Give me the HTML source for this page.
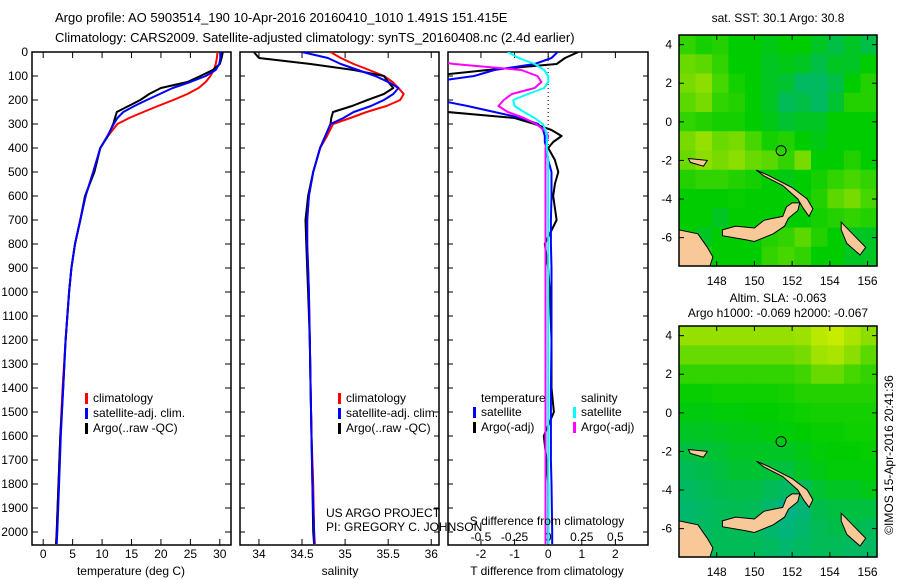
<!DOCTYPE html>
<html><head><meta charset="utf-8">
<style>
html,body{margin:0;padding:0;background:#fff;}
svg{display:block;font-family:"Liberation Sans",sans-serif;}
text{font-size:12px;fill:#000;}
</style></head>
<body>
<svg id="fig" width="900" height="580" viewBox="0 0 900 580" xmlns="http://www.w3.org/2000/svg">
<text x="55" y="22" style="font-size:13px">Argo profile: AO 5903514_190 10-Apr-2016 20160410_1010 1.491S 151.415E</text>
<text x="55" y="42" style="font-size:13px">Climatology: CARS2009. Satellite-adjusted climatology: synTS_20160408.nc (2.4d earlier)</text>
<g id="plots"></g>
<text x="778" y="22" text-anchor="middle">sat. SST: 30.1 Argo: 30.8</text>
<text x="778" y="302" text-anchor="middle">Altim. SLA: -0.063</text>
<text x="778" y="317" text-anchor="middle">Argo h1000: -0.069 h2000: -0.067</text>
<text transform="translate(893,455) rotate(-90)" text-anchor="middle">©IMOS 15-Apr-2016 20:41:36</text>
<text x="326" y="517">US ARGO PROJECT</text>
<text x="326" y="531">PI: GREGORY C. JOHNSON</text>
</svg>
<script>
// ---- profile data ----
const depthGrid = [0,25,50,75,100,125,150,175,200,225,250,275,300,350,400,500,600,700,800,900,1000,1200,1400,1600,1800,2000,2050];
const tempClim = [29.6,29.5,29.3,29.0,28.4,27.6,26.4,24.5,22.1,19.5,17.0,14.6,12.6,11.0,9.7,8.5,7.2,6.3,5.4,4.8,4.4,3.8,3.3,2.9,2.6,2.3,2.2];
const tempSat  = [30.2,30.1,29.9,29.3,27.6,25.0,22.0,19.8,17.6,15.5,13.6,12.6,12.0,10.9,9.7,8.5,7.2,6.3,5.4,4.8,4.4,3.8,3.4,3.0,2.7,2.4,2.3];
const tempArgo = [30.5,30.3,30.0,28.8,26.7,24.5,20.0,18.0,16.5,14.5,12.5,12.2,11.9,11.0,9.7,8.7,7.1,6.3,5.4,4.8,4.4,3.8,3.4,2.9,2.6,2.3,2.2];
const salClim = [34.83,34.95,35.1,35.28,35.45,35.55,35.62,35.68,35.64,35.48,35.25,35.06,34.86,34.79,34.71,34.63,34.58,34.56,34.56,34.57,34.58,34.59,34.6,34.61,34.63,34.64,34.65];
const salSat  = [34.5,34.8,34.95,35.15,35.35,35.5,35.62,35.56,35.45,35.3,35.1,34.98,34.83,34.77,34.71,34.63,34.58,34.56,34.56,34.57,34.58,34.59,34.6,34.61,34.62,34.64,34.64];
const salArgo = [33.94,34.0,34.6,35.1,35.45,35.5,35.56,35.45,35.26,35.08,34.86,34.84,34.83,34.77,34.71,34.63,34.57,34.54,34.55,34.56,34.57,34.59,34.6,34.61,34.62,34.63,34.64];
const diffDepth = [0,25,50,75,100,125,150,175,200,225,250,275,300,325,350,375,400,450,500,550,600,700,800,900,1000,1200,1400,1500,1600,1700,1800,2000,2050];
const dTArgo = [0.9,0.5,0.25,-1.8,-3.5,-4,-6,-6,-5.5,-4,-3.0,-1.0,-0.4,0.1,0.4,0.15,0.0,0.2,0.3,0.2,0.15,0.25,-0.1,0.0,0.05,0.1,0.1,0.17,-0.13,-0.05,0.0,0.0,0.0];
const dTSat  = [0.28,0.1,-0.4,-1.6,-2.2,-3.5,-4.4,-4.7,-3.3,-2.4,-1.6,-0.8,-0.3,-0.15,-0.1,-0.1,-0.05,0.0,0.1,0.1,0.1,0.08,0.08,0.1,0.1,0.1,0.08,0.08,0.08,0.08,0.1,0.12,0.12];
const dSSat  = [-0.3,-0.22,-0.1,-0.03,0,0,-0.03,-0.15,-0.26,-0.25,-0.18,-0.1,-0.04,-0.02,-0.01,-0.01,-0.01,0,0,0,0,0,0,0,0,0,0,0,0,0,0,0,0];
const dSArgo = [-1.0,-1.0,-0.7,-0.2,-0.08,-0.05,-0.1,-0.27,-0.33,-0.37,-0.3,-0.18,-0.09,-0.03,0,-0.01,-0.02,-0.02,-0.02,-0.02,-0.02,-0.02,-0.02,-0.02,-0.02,-0.02,-0.02,-0.02,-0.02,-0.02,-0.02,-0.02,-0.02];
const depthTicks = [0,100,200,300,400,500,600,700,800,900,1000,1100,1200,1300,1400,1500,1600,1700,1800,1900,2000];
const tempTicks = [0,5,10,15,20,25,30];
const salTicks = [34,34.5,35,35.5,36];
const dTTicks = [-2,-1,0,1,2];
const dSTicks = [-0.5,-0.25,0,0.25,0.5];
// ---- map data (0=blue/teal .. 0.55=green .. 1=yellow) ----
const sstGrid = [
[.62,.58,.6,.55,.55,.52,.55,.55,.5,.45,.5,.45],
[.7,.68,.62,.55,.55,.5,.52,.5,.45,.5,.5,.55],
[.72,.75,.65,.58,.55,.5,.48,.4,.4,.45,.55,.6],
[.68,.72,.62,.6,.55,.5,.42,.45,.4,.48,.6,.6],
[.62,.6,.58,.58,.55,.52,.48,.5,.5,.55,.55,.55],
[.72,.78,.7,.72,.65,.58,.6,.55,.52,.55,.55,.55],
[.7,.75,.72,.75,.7,.68,.62,.72,.55,.55,.6,.55],
[.6,.62,.62,.6,.58,.55,.52,.55,.58,.62,.65,.62],
[.55,.55,.55,.56,.55,.55,.55,.55,.6,.68,.72,.65],
[.55,.55,.5,.55,.55,.55,.55,.55,.58,.6,.62,.6],
[.55,.5,.55,.55,.55,.6,.62,.68,.6,.55,.5,.5],
[.55,.6,.55,.55,.55,.62,.65,.62,.55,.55,.5,.5]];
const slaGrid = [
[.78,.78,.78,.78,.78,.78,.78,.8,.9,.95,.85,.75],
[.7,.7,.7,.7,.7,.7,.7,.72,.82,.85,.75,.68],
[.62,.62,.62,.62,.62,.62,.62,.64,.7,.7,.65,.62],
[.56,.56,.57,.57,.57,.57,.58,.6,.6,.6,.6,.6],
[.53,.53,.54,.54,.55,.55,.56,.57,.58,.58,.58,.58],
[.5,.5,.51,.52,.52,.53,.54,.55,.56,.56,.57,.57],
[.46,.47,.48,.5,.5,.5,.5,.52,.54,.55,.55,.56],
[.42,.44,.46,.48,.48,.47,.46,.5,.52,.54,.54,.54],
[.4,.42,.44,.45,.45,.42,.4,.42,.48,.5,.5,.52],
[.38,.4,.42,.43,.42,.38,.33,.36,.44,.46,.46,.46],
[.38,.4,.42,.42,.42,.38,.35,.38,.42,.44,.44,.42],
[.38,.4,.42,.42,.42,.4,.38,.4,.42,.42,.4,.4]];
const latTicks = [4,2,0,-2,-4,-6];
const lonTicks = [148,150,152,154,156];
const floatLon = 151.415, floatLat = -1.491;
const landNewBritain = [[148.3,-5.6],[149,-5.4],[150,-5.5],[150.5,-5.1],[151,-5.0],[151.5,-4.9],[151.7,-4.4],[152.0,-4.2],[152.4,-4.2],[152.3,-4.6],[151.8,-5.0],[151.6,-5.4],[151,-5.8],[150,-6.2],[149.5,-6.1],[148.3,-5.9]];
const landNewIreland = [[150.1,-2.5],[150.8,-2.8],[152,-3.4],[152.8,-4.0],[153.1,-4.5],[152.9,-4.9],[152.6,-4.5],[152.3,-4.0],[151.5,-3.3],[150.5,-2.8]];
const landPNG = [[146,-5.6],[147,-5.8],[147.5,-6.5],[147.8,-7.0],[147.6,-7.6],[146,-7.6]];
const landManus = [[146.5,-1.9],[147.5,-2.0],[147.3,-2.3],[146.6,-2.1]];
const landBougainville = [[154.6,-5.2],[155.2,-5.8],[155.9,-6.5],[155.6,-6.9],[154.9,-6.3],[154.6,-5.6]];

const NS = "http://www.w3.org/2000/svg";
const root = document.getElementById('plots');
function mk(tag, attrs, parent){const e=document.createElementNS(NS,tag);for(const k in attrs)e.setAttribute(k,attrs[k]);(parent||root).appendChild(e);return e;}

const yTop=52, yBot=545, depthScale=0.24;
const yD = d => yTop + d*depthScale;

function panel(name, x0, x1, xmin, xmax){
  const g = mk('g',{});
  
  
  const cp = mk('clipPath',{id:'clip-'+name}, g);
  mk('rect',{x:x0,y:yTop,width:x1-x0,height:yBot-yTop},cp);
  const fx = v => x0 + (v-xmin)/(xmax-xmin)*(x1-x0);
  return {g, fx, x0, x1, clip:'url(#clip-'+name+')'};
}
function line(p, xs, ds, fxv, color, w, name){
  const pts = xs.map((v,i)=>fxv(v).toFixed(1)+','+yD(ds[i]).toFixed(1)).join(' ');
  const pl = mk('polyline',{points:pts,fill:'none',stroke:color,'stroke-width':w,'clip-path':p.clip,'stroke-linejoin':'round'},p.g);
  
  
}
function frame(p){
  mk('rect',{x:p.x0,y:yTop,width:p.x1-p.x0,height:yBot-yTop,fill:'none',stroke:'#000','stroke-width':1.5},p.g);
}
function xTicks(p, ticks, fxv, labelY){
  ticks.forEach(t=>{
    const x=fxv(t);
    mk('line',{x1:x,x2:x,y1:yBot,y2:yBot-6,stroke:'#000'},p.g);
    mk('line',{x1:x,x2:x,y1:yTop,y2:yTop+6,stroke:'#000'},p.g);
    if(labelY){const tx=mk('text',{x:x,y:labelY,'text-anchor':'middle'},p.g);tx.textContent=String(t);}
  });
}
function legend(p, x, y, items){
  items.forEach((it,i)=>{
    mk('rect',{x:x,y:y+i*15-9,width:3,height:11,fill:it[0]},p.g);
    const t=mk('text',{x:x+8,y:y+i*15},p.g);t.textContent=it[1];
  });
}

// Panel 1
const p1 = panel('temperature-panel',32,231,-1.9,31.9);
frame(p1);
depthTicks.forEach(d=>{
  mk('line',{x1:32,x2:38,y1:yD(d),y2:yD(d),stroke:'#000'},p1.g);
  mk('line',{x1:231,x2:225,y1:yD(d),y2:yD(d),stroke:'#000'},p1.g);
  const t=mk('text',{x:28,y:yD(d)+4,'text-anchor':'end'},p1.g);t.textContent=d;
});
xTicks(p1,tempTicks,p1.fx,558);
line(p1,tempClim,depthGrid,p1.fx,'#f00',2,'temperature-climatology-line');
line(p1,tempArgo,depthGrid,p1.fx,'#000',2,'temperature-argo-line');
line(p1,tempSat,depthGrid,p1.fx,'#00f',2,'temperature-satellite-line');
legend(p1,85,402,[['#f00','climatology'],['#00f','satellite-adj. clim.'],['#000','Argo(..raw -QC)']]);
const xl1=mk('text',{x:131,y:575,'text-anchor':'middle'},p1.g);xl1.textContent='temperature (deg C)';

// Panel 2
const p2 = panel('salinity-panel',240,439,33.78,36.09);
frame(p2);
depthTicks.forEach(d=>{
  mk('line',{x1:240,x2:245,y1:yD(d),y2:yD(d),stroke:'#000'},p2.g);
  mk('line',{x1:439,x2:434,y1:yD(d),y2:yD(d),stroke:'#000'},p2.g);
});
xTicks(p2,salTicks,p2.fx,558);
line(p2,salClim,depthGrid,p2.fx,'#f00',2,'salinity-climatology-line');
line(p2,salArgo,depthGrid,p2.fx,'#000',2,'salinity-argo-line');
line(p2,salSat,depthGrid,p2.fx,'#00f',2,'salinity-satellite-line');
legend(p2,338,402,[['#f00','climatology'],['#00f','satellite-adj. clim.'],['#000','Argo(..raw -QC)']]);
const xl2=mk('text',{x:340,y:575,'text-anchor':'middle'},p2.g);xl2.textContent='salinity';

// Panel 3
const p3 = panel('difference-panel',448,648,-2.98,2.97);
const fS = v => p3.fx(v*4);
frame(p3);
depthTicks.forEach(d=>{
  mk('line',{x1:448,x2:453,y1:yD(d),y2:yD(d),stroke:'#000'},p3.g);
  mk('line',{x1:648,x2:643,y1:yD(d),y2:yD(d),stroke:'#000'},p3.g);
});
xTicks(p3,dTTicks,p3.fx,558);
dSTicks.forEach(t=>{const tx=mk('text',{x:fS(t),y:541,'text-anchor':'middle'},p3.g);tx.textContent=String(t);});
mk('line',{x1:p3.fx(0),x2:p3.fx(0),y1:yTop,y2:150,stroke:'#000','stroke-dasharray':'1,3'},p3.g);
line(p3,dTArgo,diffDepth,p3.fx,'#000',2,'t-diff-argo-line');
line(p3,dTSat,diffDepth,p3.fx,'#00f',2,'t-diff-satellite-line');
line(p3,dSArgo,diffDepth,fS,'#f0f',2,'s-diff-argo-line');
line(p3,dSSat,diffDepth,fS,'#0ff',2,'s-diff-satellite-line');
const lt=mk('text',{x:481,y:402},p3.g);lt.textContent='temperature';
const ls=mk('text',{x:581,y:402},p3.g);ls.textContent='salinity';
legend(p3,473,416,[['#00f','satellite'],['#000','Argo(-adj)']]);
legend(p3,573,416,[['#0ff','satellite'],['#f0f','Argo(-adj)']]);
const sl=mk('text',{x:547,y:525,'text-anchor':'middle'},p3.g);sl.textContent='S difference from climatology';
const xl3=mk('text',{x:547,y:575,'text-anchor':'middle'},p3.g);xl3.textContent='T difference from climatology';

// ---- Maps ----
const stops=[[0,[0,110,220]],[0.3,[0,175,150]],[0.45,[0,190,70]],[0.55,[0,205,0]],[0.75,[140,222,0]],[1,[215,240,0]]];
function cmap(v){
  for(let i=1;i<stops.length;i++){
    if(v<=stops[i][0]){const a=stops[i-1],b=stops[i];const f=(v-a[0])/(b[0]-a[0]);
      const c=a[1].map((x,k)=>Math.round(x+(b[1][k]-x)*f));return 'rgb('+c.join(',')+')';}
  }
  return 'rgb(215,240,0)';
}
function mapPanel(name, top, bot, grid){
  const x0=679,x1=877;
  const lonMin=146.0,lonMax=156.5,latMax=4.5,latMin=-7.47;
  const fx=l=>x0+(l-lonMin)/(lonMax-lonMin)*(x1-x0);
  const fy=l=>top+(latMax-l)/(latMax-latMin)*(bot-top);
  const g=mk('g',{});
  
  
  const rows=grid.length, cols=grid[0].length;
  const cw=(x1-x0)/cols, ch=(bot-top)/rows;
  grid.forEach((row,r)=>row.forEach((v,c)=>{
    mk('rect',{x:(x0+c*cw).toFixed(2),y:(top+r*ch).toFixed(2),width:(cw+0.6).toFixed(2),height:(ch+0.6).toFixed(2),fill:cmap(v)},g);
  }));
  const cp=mk('clipPath',{id:'clip-'+name},g);
  mk('rect',{x:x0,y:top,width:x1-x0,height:bot-top},cp);
  [landNewBritain,landNewIreland,landPNG,landManus,landBougainville].forEach(poly=>{
    const pg=mk('polygon',{points:poly.map(p=>fx(p[0]).toFixed(1)+','+fy(p[1]).toFixed(1)).join(' '),fill:'#f8c898',stroke:'#000','stroke-width':1,'clip-path':'url(#clip-'+name+')'},g);
    
    
  });
  const fl=mk('circle',{cx:fx(floatLon),cy:fy(floatLat),r:5,fill:'none',stroke:'#000'},g);
  
  
  mk('rect',{x:x0,y:top,width:x1-x0,height:bot-top,fill:'none',stroke:'#000','stroke-width':1.5},g);
  latTicks.forEach(l=>{
    const y=fy(l);
    mk('line',{x1:x0,x2:x0+5,y1:y,y2:y,stroke:'#000'},g);
    mk('line',{x1:x1,x2:x1-5,y1:y,y2:y,stroke:'#000'},g);
    const t=mk('text',{x:x0-7,y:y+4,'text-anchor':'end'},g);t.textContent=String(l);
  });
  lonTicks.forEach(l=>{
    const x=fx(l);
    mk('line',{x1:x,x2:x,y1:bot,y2:bot-5,stroke:'#000'},g);
    mk('line',{x1:x,x2:x,y1:top,y2:top+5,stroke:'#000'},g);
    const t=mk('text',{x:x,y:bot+19,'text-anchor':'middle'},g);t.textContent=String(l);
  });
}
mapPanel('sst-map',35,266,sstGrid);
mapPanel('sla-map',326,557,slaGrid);
</script>
</body></html>
